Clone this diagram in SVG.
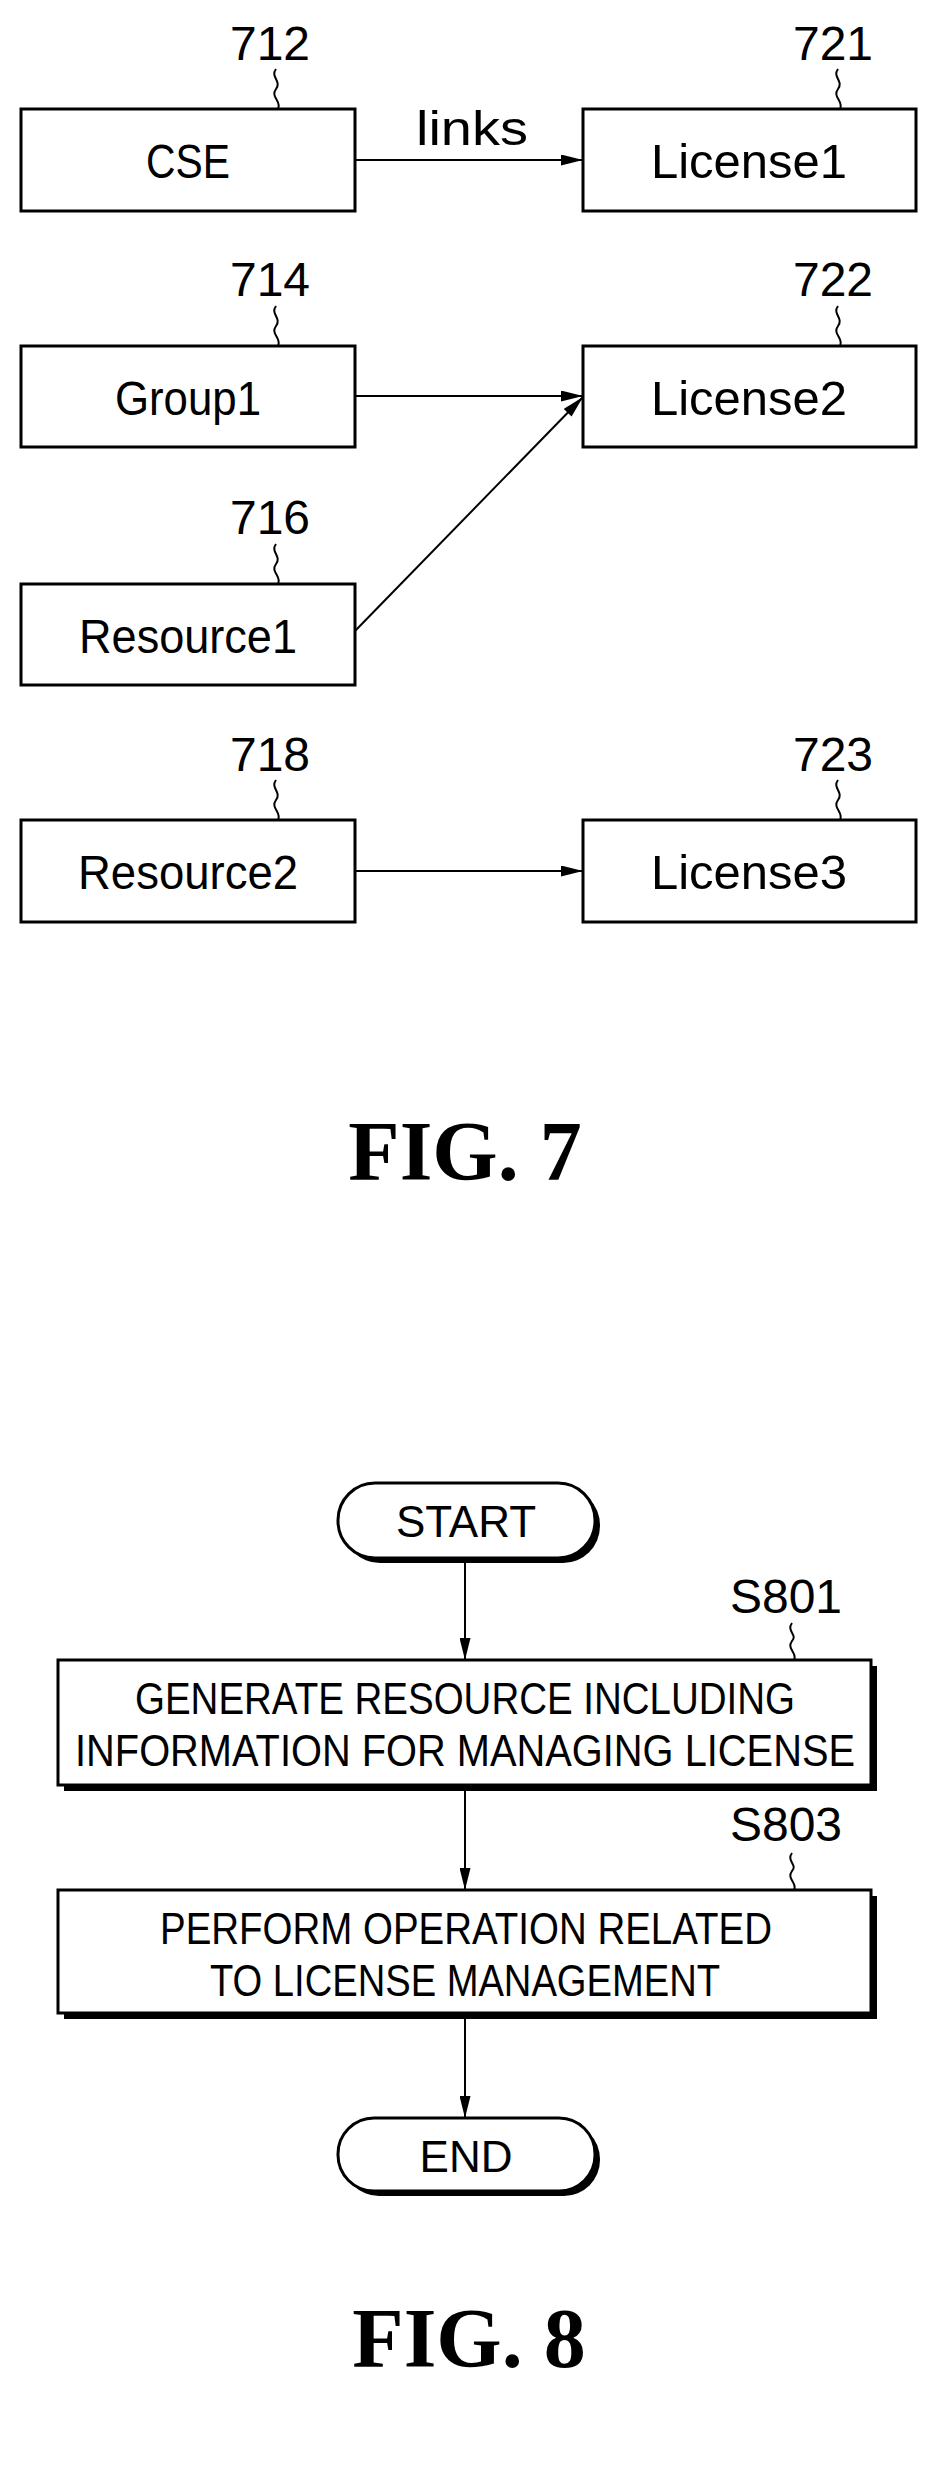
<svg xmlns="http://www.w3.org/2000/svg" width="937" height="2481" viewBox="0 0 937 2481">
<defs>
<marker id="ah" viewBox="0 0 20 10" refX="20" refY="5" markerWidth="22" markerHeight="11" markerUnits="userSpaceOnUse" orient="auto"><path d="M0,0 L20,5 L0,10 Z" fill="#000"/></marker>
<style>
.b{fill:#fff;stroke:#000;stroke-width:3}
.t{font-family:"Liberation Sans",Arial,sans-serif;font-size:48px;text-anchor:middle;fill:#000}
.f{font-family:"Liberation Sans",Arial,sans-serif;font-size:44px;text-anchor:middle;fill:#000}
.c{fill:none;stroke:#000;stroke-width:2}
.fig{font-family:"Liberation Serif","Times New Roman",serif;font-weight:bold;font-size:84px;text-anchor:middle;fill:#000}
.sh{fill:#000}
</style>
</defs>
<rect width="937" height="2481" fill="#fff"/>
<g id="n712"><rect class="b" x="21" y="109" width="334" height="102"/><text class="t" x="188" y="178" textLength="84" lengthAdjust="spacingAndGlyphs">CSE</text><text class="t" x="270" y="60">712</text><path class="c" d="M276,69 c-6,8 6,12 0,20 c-6,8 6,12 2,20"/></g>
<g id="n721"><rect class="b" x="583" y="109" width="333" height="102"/><text class="t" x="749" y="178" textLength="196" lengthAdjust="spacingAndGlyphs">License1</text><text class="t" x="833" y="60">721</text><path class="c" d="M838,69 c-6,8 6,12 0,20 c-6,8 6,12 2,20"/></g>
<g id="n714"><rect class="b" x="21" y="346" width="334" height="101"/><text class="t" x="188" y="415" textLength="146" lengthAdjust="spacingAndGlyphs">Group1</text><text class="t" x="270" y="296">714</text><path class="c" d="M276,306 c-6,8 6,12 0,20 c-6,8 6,12 2,20"/></g>
<g id="n722"><rect class="b" x="583" y="346" width="333" height="101"/><text class="t" x="749" y="415" textLength="196" lengthAdjust="spacingAndGlyphs">License2</text><text class="t" x="833" y="296">722</text><path class="c" d="M838,306 c-6,8 6,12 0,20 c-6,8 6,12 2,20"/></g>
<g id="n716"><rect class="b" x="21" y="584" width="334" height="101"/><text class="t" x="188" y="653" textLength="218" lengthAdjust="spacingAndGlyphs">Resource1</text><text class="t" x="270" y="534">716</text><path class="c" d="M276,544 c-6,8 6,12 0,20 c-6,8 6,12 2,20"/></g>
<g id="n718"><rect class="b" x="21" y="820" width="334" height="102"/><text class="t" x="188" y="889" textLength="220" lengthAdjust="spacingAndGlyphs">Resource2</text><text class="t" x="270" y="771">718</text><path class="c" d="M276,780 c-6,8 6,12 0,20 c-6,8 6,12 2,20"/></g>
<g id="n723"><rect class="b" x="583" y="820" width="333" height="102"/><text class="t" x="749" y="889" textLength="196" lengthAdjust="spacingAndGlyphs">License3</text><text class="t" x="833" y="771">723</text><path class="c" d="M838,780 c-6,8 6,12 0,20 c-6,8 6,12 2,20"/></g>
<g id="connectors" stroke="#000" stroke-width="2" fill="none">
<line x1="355" y1="160" x2="583" y2="160" marker-end="url(#ah)"/>
<line x1="355" y1="396" x2="583" y2="396" marker-end="url(#ah)"/>
<line x1="355" y1="631" x2="583" y2="397" marker-end="url(#ah)"/>
<line x1="355" y1="871" x2="583" y2="871" marker-end="url(#ah)"/>
<line x1="465" y1="1558" x2="465" y2="1660" marker-end="url(#ah)"/>
<line x1="465" y1="1785" x2="465" y2="1890" marker-end="url(#ah)"/>
<line x1="465" y1="2013" x2="465" y2="2118" marker-end="url(#ah)"/>
</g>
<text class="t" x="472" y="145" textLength="112" lengthAdjust="spacingAndGlyphs">links</text>
<text class="fig" x="465" y="1180">FIG. 7</text>
<g id="start"><rect class="sh" x="343" y="1488" width="257" height="75" rx="37"/><rect class="b" x="338" y="1483" width="257" height="75" rx="37"/><text class="f" x="466" y="1537">START</text></g>
<g id="s801"><rect class="sh" x="64" y="1666" width="813" height="125"/><rect class="b" x="58" y="1660" width="813" height="125"/><text class="f" x="465" y="1714" textLength="660" lengthAdjust="spacingAndGlyphs">GENERATE RESOURCE INCLUDING</text><text class="f" x="465" y="1766" textLength="780" lengthAdjust="spacingAndGlyphs">INFORMATION FOR MANAGING LICENSE</text><text class="t" x="786" y="1613">S801</text><path class="c" d="M792,1623 c-6,8 6,12 0,18 c-6,8 6,12 2,19"/></g>
<g id="s803"><rect class="sh" x="64" y="1896" width="813" height="123"/><rect class="b" x="58" y="1890" width="813" height="123"/><text class="f" x="466" y="1944" textLength="612" lengthAdjust="spacingAndGlyphs">PERFORM OPERATION RELATED</text><text class="f" x="465" y="1996" textLength="510" lengthAdjust="spacingAndGlyphs">TO LICENSE MANAGEMENT</text><text class="t" x="786" y="1841">S803</text><path class="c" d="M792,1853 c-6,8 6,12 0,18 c-6,8 6,12 2,19"/></g>
<g id="end"><rect class="sh" x="343" y="2123" width="257" height="73" rx="36"/><rect class="b" x="338" y="2118" width="257" height="73" rx="36"/><text class="f" x="466" y="2172">END</text></g>
<text class="fig" x="469" y="2367">FIG. 8</text>
</svg>
